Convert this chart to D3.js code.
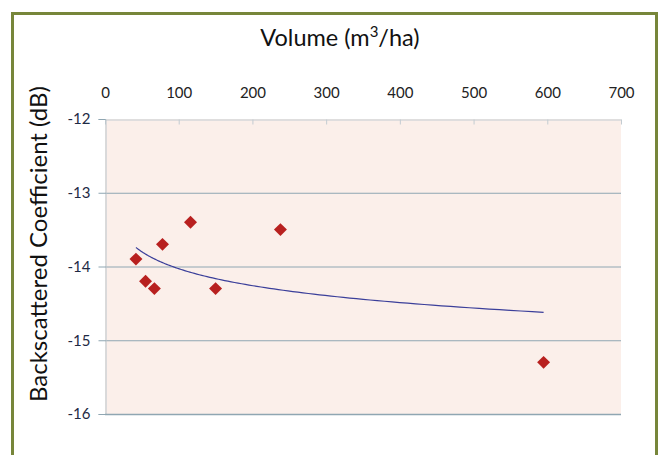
<!DOCTYPE html>
<html>
<head>
<meta charset="utf-8">
<script src="https://cdn.jsdelivr.net/npm/d3@7"></script>
<style>
  body { margin: 0; background: #fff; }
  text { font-family: Lato, "Open Sans", sans-serif; }
</style>
</head>
<body>
<div id="chart"></div>
<script>
// scatter data
const volume = [42, 55, 67, 78, 116, 150, 238, 595];
const backscatter = [-13.9, -14.2, -14.3, -13.7, -13.4, -14.3, -13.5, -15.3];
const xTicks = [0, 100, 200, 300, 400, 500, 600, 700];
const yTicks = [-12, -13, -14, -15, -16];

const W = 661, H = 455;
const svg = d3.select("#chart").append("svg").attr("width", W).attr("height", H);

// outer frame (bottom edge runs off the picture)
svg.append("rect")
  .attr("x", 12.5).attr("y", 13.5).attr("width", 644).attr("height", 470)
  .attr("fill", "#fff").attr("stroke", "#77863a").attr("stroke-width", 3);

const x = d3.scaleLinear().domain([0, 700]).range([105, 621]);
const y = d3.scaleLinear().domain([-12, -16]).range([119, 414]);

// plot area
svg.append("rect")
  .attr("x", x(0)).attr("y", y(-12))
  .attr("width", x(700) - x(0)).attr("height", y(-16) - y(-12))
  .attr("fill", "#fbefea");

// horizontal gridlines
svg.selectAll(".grid")
  .data(yTicks.filter(d => d !== -12 && d !== -16))
  .join("line")
  .attr("class", "grid")
  .attr("x1", x(0)).attr("x2", x(700))
  .attr("y1", d => y(d) + 0.5).attr("y2", d => y(d) + 0.5)
  .attr("stroke", "#8fa6b2").attr("stroke-width", 1);

// top x axis, ticks pointing into the plot
const xAxis = svg.append("g")
  .attr("transform", `translate(0,${y(-12) + 0.5})`)
  .call(d3.axisTop(x).tickValues(xTicks).tickSizeInner(-5).tickSizeOuter(0).tickPadding(22));
xAxis.select(".domain").attr("stroke", "#c3ccd2");
xAxis.selectAll(".tick line").attr("stroke", "#c3ccd2");
xAxis.selectAll(".tick text").attr("font-size", 15).attr("fill", "#222")
  .attr("font-family", "Lato, sans-serif");

// left y axis
const yAxis = svg.append("g")
  .attr("transform", `translate(${x(0) + 0.5},0)`)
  .call(d3.axisLeft(y).tickValues(yTicks).tickSize(7).tickPadding(8).tickFormat(d3.format("d")));
yAxis.select(".domain").attr("stroke", "#b8c4cb");
yAxis.selectAll(".tick line").attr("stroke", "#8fa6b2");
yAxis.selectAll(".tick text").attr("font-size", 15).attr("fill", "#1e2a44")
  .attr("font-family", "Lato, sans-serif")
  .text(d => "-" + Math.abs(d));

// bottom edge of plot
svg.append("line")
  .attr("x1", x(0)).attr("x2", x(700))
  .attr("y1", y(-16) + 0.5).attr("y2", y(-16) + 0.5)
  .attr("stroke", "#8fa6b2").attr("stroke-width", 1.5);

// logarithmic trendline fitted to the points (as the spreadsheet does)
const lx = volume.map(Math.log);
const mx = d3.mean(lx), my = d3.mean(backscatter);
const slope = d3.sum(lx, (v, i) => (v - mx) * (backscatter[i] - my)) / d3.sum(lx, v => (v - mx) ** 2);
const icpt = my - slope * mx;
const xmin = d3.min(volume), xmax = d3.max(volume);
const trend = d3.range(0, 101).map(i => {
  const v = xmin * Math.pow(xmax / xmin, i / 100);
  return [v, icpt + slope * Math.log(v)];
});
svg.append("path")
  .datum(trend)
  .attr("d", d3.line().x(d => x(d[0])).y(d => y(d[1])))
  .attr("fill", "none").attr("stroke", "#3b3f9a").attr("stroke-width", 1.2);

// diamond markers
svg.selectAll(".pt")
  .data(volume.map((v, i) => [v, backscatter[i]]))
  .join("path")
  .attr("class", "pt")
  .attr("d", d3.symbol(d3.symbolSquare, 84))
  .attr("transform", d => `translate(${x(d[0])},${y(d[1])}) rotate(45)`)
  .attr("fill", "#b8201f");

// titles
svg.append("text")
  .attr("x", 340).attr("y", 46)
  .attr("text-anchor", "middle").attr("font-size", 23.5).attr("fill", "#111")
  .html('Volume (m<tspan dy="-9" font-size="15">3</tspan><tspan dy="9">/ha)</tspan>');

svg.append("text")
  .attr("transform", "translate(47,244) rotate(-90)")
  .attr("text-anchor", "middle").attr("font-size", 24).attr("fill", "#111")
  .text("Backscattered Coefficient (dB)");
</script>
</body>
</html>
